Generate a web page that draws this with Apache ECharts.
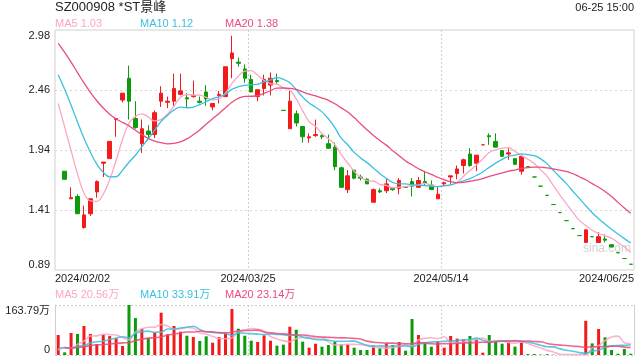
<!DOCTYPE html>
<html><head><meta charset="utf-8">
<script src="https://cdn.jsdelivr.net/npm/echarts@6/dist/echarts.min.js"></script>
<style>html,body{margin:0;padding:0;background:#fff}#c{width:640px;height:360px}</style>
</head><body><div id="c"></div>
<script>
// ---------- data ----------
const dates = [
'2024/02/02','2024/02/05','2024/02/06','2024/02/07','2024/02/08','2024/02/19','2024/02/20','2024/02/21','2024/02/22','2024/02/23','2024/02/26','2024/02/27','2024/02/28','2024/02/29',
'2024/03/01','2024/03/04','2024/03/05','2024/03/06','2024/03/07','2024/03/08','2024/03/11','2024/03/12','2024/03/13','2024/03/14','2024/03/15','2024/03/18','2024/03/19','2024/03/20','2024/03/21','2024/03/22','2024/03/25','2024/03/26','2024/03/27','2024/03/28','2024/03/29',
'2024/04/01','2024/04/02','2024/04/03','2024/04/08','2024/04/09','2024/04/10','2024/04/11','2024/04/12','2024/04/15','2024/04/16','2024/04/17','2024/04/18','2024/04/19','2024/04/22','2024/04/23','2024/04/24','2024/04/25','2024/04/26','2024/04/29','2024/04/30',
'2024/05/07','2024/05/08','2024/05/09','2024/05/10','2024/05/13','2024/05/14','2024/05/15','2024/05/16','2024/05/17','2024/05/20','2024/05/21','2024/05/22','2024/05/23','2024/05/24','2024/05/27','2024/05/28','2024/05/29','2024/05/30','2024/05/31',
'2024/06/03','2024/06/04','2024/06/05','2024/06/06','2024/06/07','2024/06/11','2024/06/12','2024/06/13','2024/06/14','2024/06/17','2024/06/18','2024/06/19','2024/06/20','2024/06/21','2024/06/24','2024/06/25'
];
// [open, close, low, high]; first day's candle is not drawn in the reference
const ohlc = [
null,
[1.75,1.68,1.68,1.75],[1.51,1.52,1.51,1.61],[1.53,1.38,1.38,1.55],[1.26,1.37,1.25,1.45],[1.38,1.51,1.36,1.51],
[1.57,1.66,1.52,1.67],[1.82,1.83,1.70,1.83],[1.86,2.01,1.86,2.01],[2.20,2.21,2.05,2.21],[2.37,2.43,2.35,2.43],
[2.56,2.36,2.20,2.67],[2.21,2.13,2.12,2.36],[1.99,2.12,1.91,2.20],[2.10,2.07,2.04,2.15],[2.07,2.26,2.04,2.28],
[2.36,2.43,2.31,2.49],[2.35,2.36,2.30,2.40],[2.36,2.47,2.31,2.60],[2.42,2.45,2.41,2.60],[2.39,2.38,2.30,2.43],
[2.40,2.41,2.39,2.54],[2.36,2.35,2.34,2.40],[2.44,2.38,2.32,2.50],[2.31,2.34,2.28,2.34],[2.41,2.42,2.34,2.45],
[2.40,2.66,2.40,2.66],[2.73,2.78,2.56,2.93],[2.70,2.69,2.66,2.74],[2.64,2.56,2.52,2.68],[2.55,2.44,2.44,2.59],
[2.40,2.46,2.36,2.46],[2.47,2.55,2.41,2.59],[2.50,2.56,2.41,2.61],[2.54,2.53,2.51,2.60],[2.28,2.28,2.28,2.28],
[2.12,2.36,2.12,2.45],[2.25,2.17,2.14,2.28],[2.14,2.05,2.00,2.14],[2.04,2.05,2.00,2.08],[2.06,2.07,2.05,2.20],
[2.06,2.05,2.03,2.07],[1.99,1.95,1.95,2.07],[1.96,1.79,1.76,2.00],[1.78,1.61,1.61,1.79],[1.59,1.71,1.56,1.76],
[1.76,1.69,1.68,1.76],[1.70,1.69,1.67,1.72],[1.68,1.64,1.64,1.69],[1.48,1.59,1.48,1.60],[1.58,1.57,1.56,1.60],
[1.58,1.64,1.56,1.69],[1.60,1.59,1.58,1.61],[1.60,1.67,1.55,1.69],[1.61,1.61,1.61,1.61],[1.66,1.62,1.53,1.69],
[1.61,1.67,1.61,1.70],[1.66,1.65,1.63,1.75],[1.63,1.59,1.59,1.67],[1.51,1.55,1.51,1.62],[1.64,1.65,1.62,1.66],
[1.70,1.71,1.64,1.71],[1.73,1.77,1.68,1.80],[1.80,1.85,1.73,1.86],[1.90,1.80,1.79,1.95],[1.82,1.89,1.75,1.89],
[1.98,1.98,1.98,1.98],[2.06,2.05,1.98,2.08],[2.01,1.96,1.96,2.08],[1.93,1.88,1.88,1.93],[1.90,1.91,1.85,1.95],
[1.86,1.81,1.81,1.86],[1.75,1.88,1.72,1.88],[1.79,1.79,1.79,1.79],[1.70,1.70,1.70,1.70],[1.62,1.62,1.62,1.62],
[1.54,1.54,1.54,1.54],[1.46,1.46,1.46,1.46],[1.39,1.39,1.39,1.39],[1.32,1.32,1.32,1.32],[1.25,1.25,1.25,1.25],
[1.19,1.19,1.19,1.19],[1.13,1.24,1.13,1.24],[1.18,1.18,1.18,1.18],[1.13,1.18,1.13,1.22],[1.16,1.15,1.13,1.20],
[1.11,1.09,1.09,1.11],[1.04,1.04,1.04,1.04],[0.99,0.99,0.99,0.99],[0.94,0.94,0.94,0.94]
];
// closes before the window (last one = first day's close), used for the moving averages
const prevCloses = [3.25,3.22,3.20,3.18,3.15,3.12,3.10,3.08,3.05,3.03,2.95,2.90,2.85,2.78,2.72,2.70,2.55,2.40,2.20,1.85];
// volume, 万股
const volumes = [
65.5,8.7,72,68.8,95,68.8,36,65.5,62,54.6,
29.5,163.79,121,86,55.7,74,138.6,67.8,95,76.4,
63.2,59,45.9,61.2,40.3,59,73,150.7,86,63.2,
46.8,42.6,64.4,46.8,30.5,33.8,92.7,82.9,43.7,24,
37,27.3,32.8,43.7,34.9,34.9,24,16.4,16.4,30.5,
21.8,38.2,32.8,42.6,14.2,117.9,65.5,42.6,27.3,45.9,
24,62.2,53.5,51.3,62.2,50.2,7.6,65.5,43.7,37,
40.3,27.3,40.3,3.3,3.3,1.5,2.5,1,0.5,1,
0.5,0.5,112,38,85.2,58,16.4,4.3,19.7,4.3
];
const prevVolumes = [18,22,25,20,19,24,21,23,20,20,22,28,25,24,27,15,12,14,13.5];
const tickLabels = ['2024/02/02','2024/03/25','2024/05/14','2024/06/25'];
const priceTickLabels = ['0.89','1.41','1.94','2.46','2.98'];
const maPeriods = [5,10,20];
const maPriceText = ['1.03','1.12','1.38'];
const maVolText = ['20.56万','33.91万','23.14万'];
const titleText = 'SZ000908 *ST景峰';
const timeText = '06-25 15:00';

// ---------- styles ----------
const UP = '#f21b1b', DOWN = '#0b9b0b';
const MA_COLORS = ['#fca6c2','#3cc0df','#ea4c7d'];
const FONT = "'Liberation Sans', Arial, 'Noto Sans CJK SC', sans-serif";
const PMIN = 0.89, PMAX = 2.98, PINT = (PMAX - PMIN) / 4;

const closes = ohlc.map((d, i) => d ? d[1] : prevCloses[prevCloses.length - 1]);
const allCloses = prevCloses.slice(0, -1).concat(closes);
const allVols = prevVolumes.concat(volumes);
function ma(arr, offset, n) {
  const out = [];
  for (let i = 0; i < 90; i++) {
    const k = i + offset; let s = 0;
    for (let j = k - n + 1; j <= k; j++) s += arr[j];
    out.push(+(s / n).toFixed(4));
  }
  return out;
}
const poff = prevCloses.length - 1, voff = prevVolumes.length;
const signs = ohlc.map((d, i) => {
  if (!d) return 1;
  if (d[1] > d[0]) return 1;
  if (d[1] < d[0]) return -1;
  return closes[i - 1] <= d[1] ? 1 : -1;
});
const volMax = Math.max(...volumes);

const chart = echarts.init(document.getElementById('c'), null, {renderer: 'canvas'});
const dashed = {type: [2, 2], color: '#cfcfcf', width: 1};
const series = [{
  type: 'candlestick', xAxisIndex: 0, yAxisIndex: 0,
  data: ohlc.map(d => d ? d : '-'), barWidth: 4,
  itemStyle: {color: UP, color0: DOWN, borderColor: UP, borderColor0: DOWN, borderWidth: 1}
}];
maPeriods.forEach((n, k) => {
  series.push({type: 'line', xAxisIndex: 0, yAxisIndex: 0, data: ma(allCloses, poff, n), showSymbol: false,
    smooth: 0.4, lineStyle: {width: 1.3, color: MA_COLORS[k]}, z: 5, silent: true});
});
series.push({type: 'bar', xAxisIndex: 1, yAxisIndex: 1, barWidth: 3,
  data: volumes.map((v, i) => ({value: v, itemStyle: {color: signs[i] > 0 ? UP : DOWN}}))});
maPeriods.forEach((n, k) => {
  series.push({type: 'line', xAxisIndex: 1, yAxisIndex: 1, data: ma(allVols, voff - 1, n), showSymbol: false,
    smooth: 0.4, lineStyle: {width: 1.6, color: MA_COLORS[k], opacity: 0.85}, z: 5, silent: true});
});

const graphic = [
  {type: 'text', left: 55, top: 1, style: {text: titleText, font: '13px ' + FONT, fill: '#222'}},
  {type: 'text', right: 6, top: 2, style: {text: timeText, font: '11px ' + FONT, fill: '#222'}},
  {type: 'text', left: 583, top: 243, style: {text: 'sina.com', font: '12px ' + FONT, fill: '#d2d2d2'}}
];
const xs = [55, 140, 225];
maPeriods.forEach((n, k) => {
  graphic.push({type: 'text', left: xs[k], top: 18, style: {text: 'MA' + n + ' ' + maPriceText[k], font: '11px ' + FONT, fill: MA_COLORS[k]}});
  graphic.push({type: 'text', left: xs[k], top: 289, style: {text: 'MA' + n + ' ' + maVolText[k], font: '11px ' + FONT, fill: MA_COLORS[k]}});
});

chart.setOption({
  animation: false,
  textStyle: {fontFamily: FONT},
  grid: [
    {left: 55, top: 30, width: 579, height: 240, show: true, borderColor: '#d0d0d0', borderWidth: 1},
    {left: 55, top: 305, width: 579, height: 50, show: false}
  ],
  xAxis: [
    {type: 'category', gridIndex: 0, data: dates, boundaryGap: true, show: false},
    {type: 'category', gridIndex: 1, data: dates, boundaryGap: true, show: false},
    {type: 'value', gridIndex: 0, min: 0, max: 3, interval: 1, position: 'bottom',
      axisLine: {show: false}, axisTick: {show: false},
      axisLabel: {formatter: v => tickLabels[Math.round(v)], alignMinLabel: 'left', alignMaxLabel: 'right',
        fontSize: 11, color: '#222', margin: 3, fontFamily: FONT},
      splitLine: {show: true, showMinLine: false, showMaxLine: false, lineStyle: dashed}},
    {type: 'value', gridIndex: 1, min: 0, max: 3, interval: 1,
      axisLine: {show: false}, axisTick: {show: false}, axisLabel: {show: false},
      splitLine: {show: true, showMinLine: false, showMaxLine: false, lineStyle: dashed}}
  ],
  yAxis: [
    {type: 'value', gridIndex: 0, min: PMIN, max: PMAX, interval: PINT, scale: true,
      axisLine: {show: false}, axisTick: {show: false},
      axisLabel: {formatter: v => priceTickLabels[Math.round((v - PMIN) / PINT)], fontSize: 11, color: '#222', margin: 5,
        verticalAlignMinLabel: 'bottom', verticalAlignMaxLabel: 'top', fontFamily: FONT},
      splitLine: {show: true, showMinLine: false, showMaxLine: false, lineStyle: {type: [2, 3], color: '#d6d6d6', width: 1}}},
    {type: 'value', gridIndex: 1, min: 0, max: volMax, interval: volMax,
      axisLine: {show: true, lineStyle: {color: '#cfcfcf'}}, axisTick: {show: false},
      axisLabel: {formatter: v => v === 0 ? '0' : volMax.toFixed(2) + '万', fontSize: 11, color: '#222', margin: 5,
        verticalAlignMinLabel: 'bottom', verticalAlignMaxLabel: 'top', fontFamily: FONT},
      splitLine: {show: true, showMinLine: true, showMaxLine: true, lineStyle: {type: [2, 2], color: '#cfcfcf', width: 1}}},
    {type: 'value', gridIndex: 1, min: 0, max: volMax, position: 'right',
      axisLine: {show: true, lineStyle: {color: '#cfcfcf'}}, axisTick: {show: false}, axisLabel: {show: false}, splitLine: {show: false}}
  ],
  series: series,
  graphic: graphic
});
</script>
</body></html>
